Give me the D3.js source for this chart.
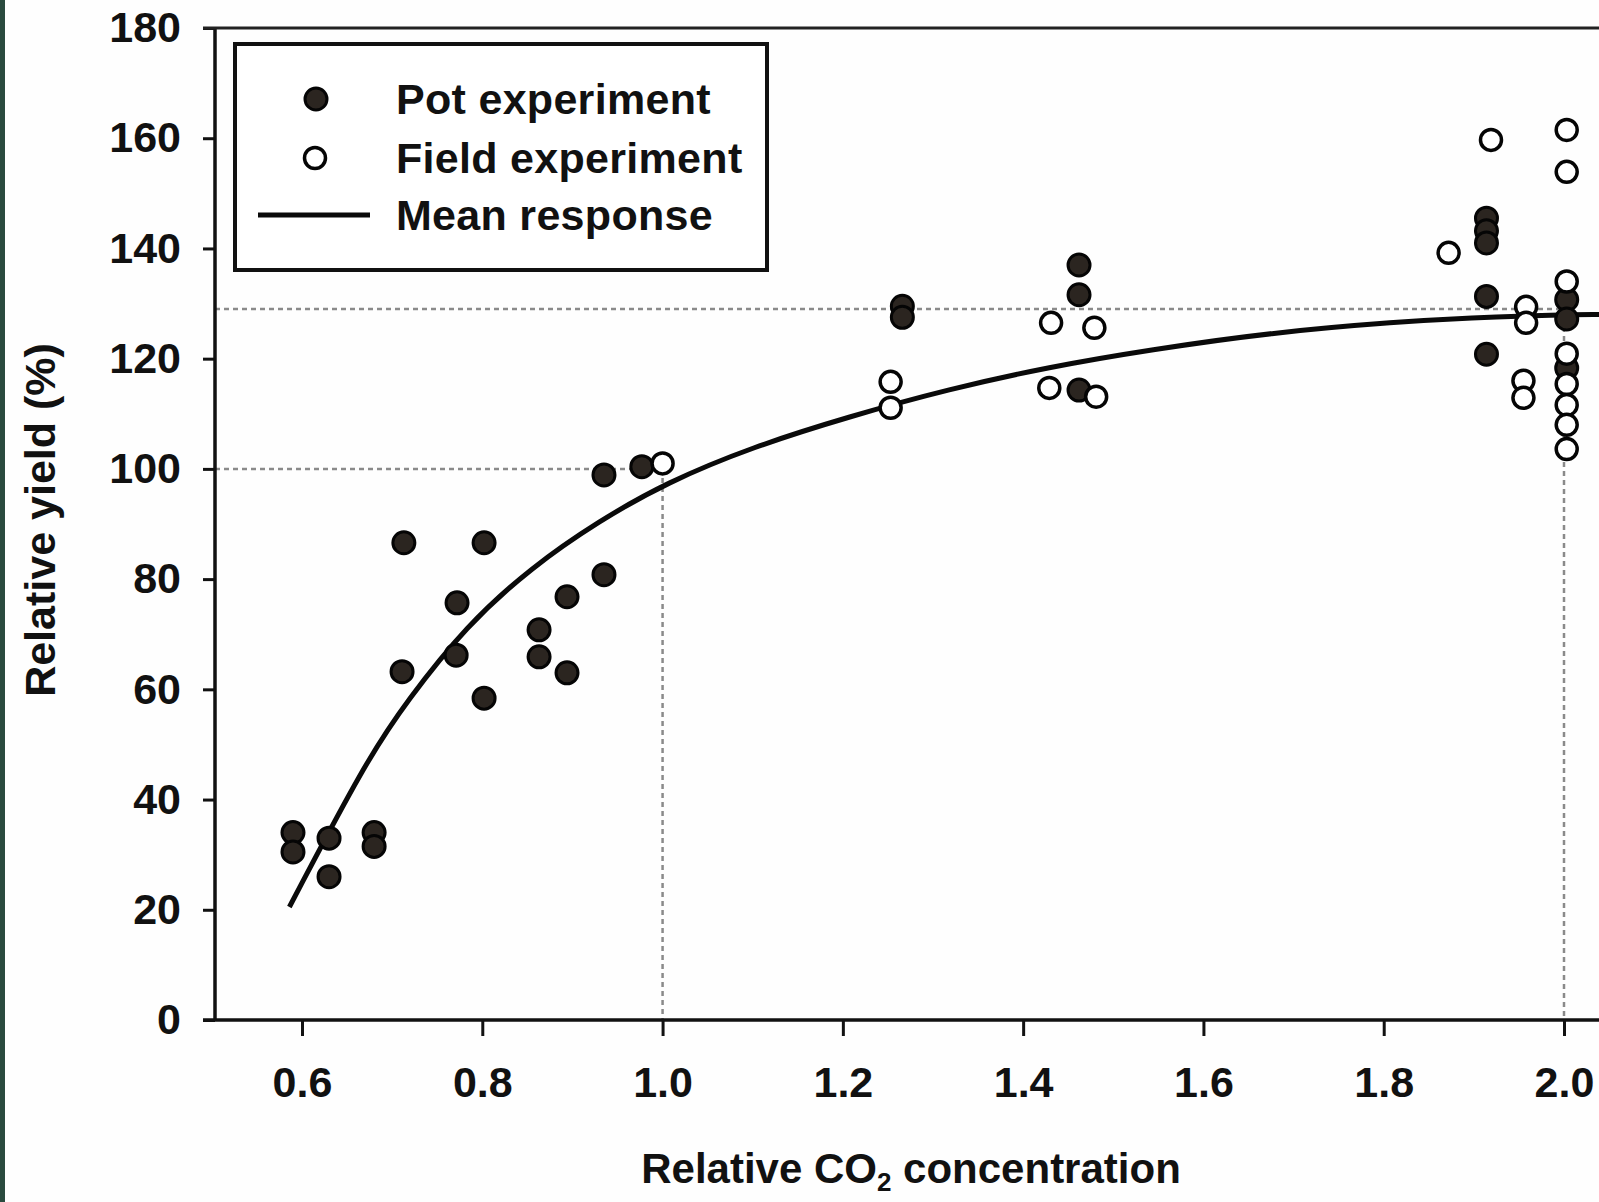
<!DOCTYPE html>
<html>
<head>
<meta charset="utf-8">
<script src="https://cdn.jsdelivr.net/npm/d3@7"></script>
<style>
  html, body { margin: 0; padding: 0; background: #fff; }
  svg { display: block; }
  text { font-family: "Liberation Sans", Arial, Helvetica, sans-serif; font-weight: bold; fill: #111; }
</style>
</head>
<body>
<svg id="chart" width="1599" height="1202"></svg>
<script>
// ---- data ----
const xTicks = [0.6, 0.8, 1.0, 1.2, 1.4, 1.6, 1.8, 2.0];
const yTicks = [0, 20, 40, 60, 80, 100, 120, 140, 160, 180];

// Pot experiment (filled symbols): [relative CO2, relative yield %]
const potX = [0.59, 0.59, 0.63, 0.63, 0.68, 0.68,
              0.713, 0.711, 0.772, 0.771, 0.802, 0.802, 0.863, 0.863, 0.894, 0.894, 0.935, 0.935, 0.977,
              1.266, 1.266, 1.462, 1.462, 1.462,
              1.914, 1.914, 1.914, 1.914, 1.914,
              2.003, 2.003, 2.003];
const potY = [34, 30.5, 33, 26, 34, 31.5,
              86.6, 63.2, 75.7, 66.2, 86.6, 58.4, 70.8, 65.9, 76.8, 63.0, 80.8, 98.9, 100.4,
              129.5, 127.5, 137.0, 131.6, 114.3,
              145.5, 143.2, 141.0, 131.3, 120.8,
              130.7, 127.2, 118.3];

// Field experiment (open symbols)
const fieldX = [1.0, 1.253, 1.253, 1.431, 1.479, 1.429, 1.481,
                1.872, 1.919, 2.003, 2.003, 1.958, 1.958, 1.955, 1.955,
                2.003, 2.003, 2.003, 2.003, 2.003, 2.003];
const fieldY = [101, 115.8, 111.1, 126.5, 125.6, 114.7, 113.1,
                139.2, 159.7, 161.5, 153.9, 129.4, 126.5, 116.0, 112.9,
                134.0, 120.9, 115.4, 111.6, 108.0, 103.6];

// Mean response curve
const meanX = [0.586, 0.671, 0.717, 0.782, 0.855, 0.929, 1.004, 1.1, 1.207, 1.318, 1.429, 1.54, 1.678, 1.817, 1.894, 1.994, 2.04];
const meanY = [20.5, 47, 58, 71.5, 82.2, 90.5, 97.5, 104, 109.5, 114.5, 118.5, 121.6, 124.8, 126.7, 127.4, 128, 128];

// Dotted reference lines
const refPoints = [[1.0, 100], [2.0, 129]];

const legendItems = ["Pot experiment", "Field experiment", "Mean response"];

// ---- layout ----
const svg = d3.select("#chart");
const W = 1599, H = 1202;
const axisX0 = 215;     // pixel of y axis
const x = d3.scaleLinear().domain([0.6, 2.0]).range([302, 1564]);
const y = d3.scaleLinear().domain([0, 180]).range([1020, 28]);

svg.append("rect").attr("x", 0).attr("y", 0).attr("width", W).attr("height", H).attr("fill", "#fefefe");
// dark border strip on the left edge of the scan
svg.append("rect").attr("x", 0).attr("y", 0).attr("width", 5).attr("height", H).attr("fill", "#2a4a3e");

// reference dotted lines
const refG = svg.append("g").attr("stroke", "#8a8a8a").attr("stroke-width", 2.5)
  .attr("stroke-dasharray", "5,4").attr("fill", "none");
refPoints.forEach(([rx, ry]) => {
  refG.append("line").attr("x1", axisX0).attr("x2", x(rx)).attr("y1", y(ry)).attr("y2", y(ry));
  refG.append("line").attr("x1", x(rx)).attr("x2", x(rx)).attr("y1", y(ry)).attr("y2", y(0));
});

// axes
const xAxis = d3.axisBottom(x).tickValues(xTicks).tickFormat(d3.format(".1f")).tickSize(16).tickPadding(30);
const gx = svg.append("g").attr("transform", `translate(0,${y(0)})`).call(xAxis);
gx.select(".domain").remove();
gx.selectAll("line").attr("stroke", "#111").attr("stroke-width", 3);
gx.selectAll("text").attr("font-size", 43).attr("font-family", null).attr("fill", "#111");

const yAxis = d3.axisLeft(y).tickValues(yTicks).tickSize(12).tickPadding(22);
const gy = svg.append("g").attr("transform", `translate(${axisX0},0)`).call(yAxis);
gy.select(".domain").remove();
gy.selectAll("line").attr("stroke", "#111").attr("stroke-width", 3);
gy.selectAll("text").attr("font-size", 43).attr("font-family", null).attr("fill", "#111");

// axis frame lines
svg.append("line").attr("x1", 203).attr("x2", W).attr("y1", y(0)).attr("y2", y(0)).attr("stroke", "#111").attr("stroke-width", 3.5);
svg.append("line").attr("x1", axisX0).attr("x2", axisX0).attr("y1", y(180)).attr("y2", y(0)).attr("stroke", "#111").attr("stroke-width", 3.5);
svg.append("line").attr("x1", 203).attr("x2", W).attr("y1", y(180)).attr("y2", y(180)).attr("stroke", "#222").attr("stroke-width", 3);

// mean response
const line = d3.line().x(d => x(d[0])).y(d => y(d[1])).curve(d3.curveBasis);
svg.append("path").datum(meanX.map((v, i) => [v, meanY[i]]))
  .attr("d", line).attr("fill", "none").attr("stroke", "#0a0a0a").attr("stroke-width", 5);

// pot points
svg.append("g").selectAll("circle").data(potX.map((v, i) => [v, potY[i]])).join("circle")
  .attr("cx", d => x(d[0])).attr("cy", d => y(d[1])).attr("r", 11)
  .attr("fill", "#2b2520").attr("stroke", "#050505").attr("stroke-width", 3);

// field points
svg.append("g").selectAll("circle").data(fieldX.map((v, i) => [v, fieldY[i]])).join("circle")
  .attr("cx", d => x(d[0])).attr("cy", d => y(d[1])).attr("r", 10.5)
  .attr("fill", "#fff").attr("stroke", "#050505").attr("stroke-width", 3.5);

// legend
const lg = svg.append("g");
lg.append("rect").attr("x", 235).attr("y", 44).attr("width", 532).attr("height", 226)
  .attr("fill", "#fff").attr("stroke", "#111").attr("stroke-width", 4);
const legY = [99, 158, 215];
lg.append("circle").attr("cx", 316).attr("cy", legY[0]).attr("r", 11)
  .attr("fill", "#2b2520").attr("stroke", "#050505").attr("stroke-width", 3);
lg.append("circle").attr("cx", 315).attr("cy", legY[1]).attr("r", 10.5)
  .attr("fill", "#fff").attr("stroke", "#050505").attr("stroke-width", 3.5);
lg.append("line").attr("x1", 258).attr("x2", 370).attr("y1", legY[2]).attr("y2", legY[2])
  .attr("stroke", "#0a0a0a").attr("stroke-width", 5);
lg.selectAll("text.leg").data(legendItems).join("text").attr("class", "leg")
  .attr("x", 396).attr("y", (d, i) => legY[i]).attr("dy", "0.35em")
  .attr("font-size", 43).attr("letter-spacing", 0.3).text(d => d);

// axis titles
const xt = svg.append("text").attr("x", 911).attr("y", 1183).attr("text-anchor", "middle").attr("font-size", 42);
xt.append("tspan").text("Relative CO");
xt.append("tspan").attr("font-size", 26).attr("dy", 8).text("2");
xt.append("tspan").attr("dy", -8).text(" concentration");

svg.append("text").attr("transform", "translate(40,520) rotate(-90)")
  .attr("text-anchor", "middle").attr("dy", "0.35em").attr("font-size", 43)
  .text("Relative yield (%)");
</script>
</body>
</html>
